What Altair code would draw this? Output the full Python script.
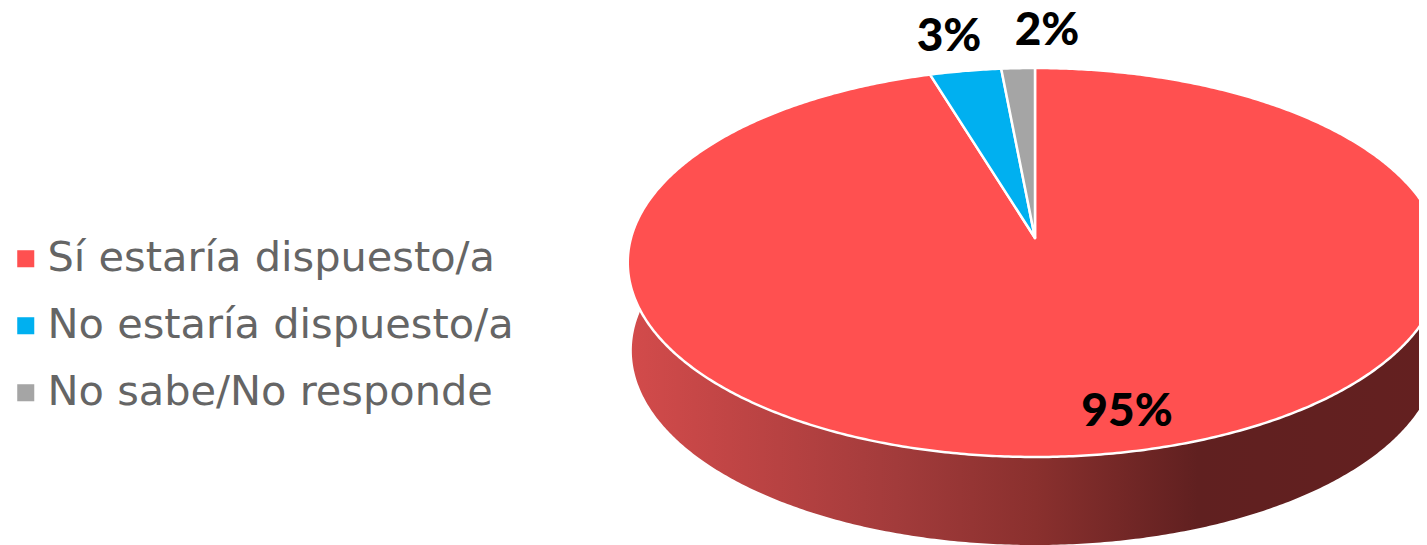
import numpy as np
import pandas as pd
import altair as alt

categories = ["Sí estaría dispuesto/a", "No estaría dispuesto/a", "No sabe/No responde"]
shares = [95.3, 3.2, 1.5]
label_texts = ["95%", "3%", "2%"]
colors = ["#FF5050", "#00B0F0", "#A5A5A5"]

W, H = 1411, 537
OFF = 8
CX, CY = 1035 - OFF, 238 - OFF
A, B, K = 404.0, 191.4, 0.126
DEPTH = 88.0
SHRINK = 0.99

label_x = [1127 - OFF, 949 - OFF, 1047 - OFF]
label_y = [412 - OFF, 37 - OFF, 31 - OFF]


def project(theta, scale=1.0, dy=0.0):
    X, Y = np.sin(theta), np.cos(theta)
    d = 1 + K * Y
    return CX + scale * A * X / d, CY + dy - B * Y / d


def arc(start, end, scale=1.0, dy=0.0, step=0.5):
    n = max(4, int(abs(end - start) / step) + 2)
    t = np.radians(np.linspace(start, end, n))
    x, y = project(t, scale, dy)
    return [[float(a), float(b)] for a, b in zip(x, y)]


def collection(feats):
    return alt.InlineData(values={"type": "FeatureCollection", "features": feats},
                          format=alt.DataFormat(property="features", type="json"))


edges = np.cumsum([0] + shares) / sum(shares) * 360
features = []
for name, s, e in zip(categories, edges[:-1], edges[1:]):
    ring = [[float(CX), float(CY)]] + arc(s, e) + [[float(CX), float(CY)]]
    features.append({"type": "Feature", "properties": {"name": name},
                     "geometry": {"type": "Polygon", "coordinates": [ring]}})

# visible side wall of the disc
wall_upper = arc(84, 276)
wall_ring = wall_upper + arc(276, 84, SHRINK, DEPTH) + [wall_upper[0]]
wall_feats = [{"type": "Feature", "properties": {"name": "wall"},
               "geometry": {"type": "Polygon", "coordinates": [wall_ring]}}]

PROJ = dict(type="identity", scale=1, translate=[0, 0])

wall = alt.Chart(collection(wall_feats)).mark_geoshape(
    fill=alt.Gradient(gradient="linear", x1=0, x2=1, y1=0, y2=0, stops=[
        alt.GradientStop(offset=0, color="#D34B4B"),
        alt.GradientStop(offset=0.33, color="#A23B3B"),
        alt.GradientStop(offset=0.5, color="#8A302E"),
        alt.GradientStop(offset=0.7, color="#602020"),
        alt.GradientStop(offset=1, color="#642020"),
    ]),
    strokeWidth=0,
).project(**PROJ)

faces = alt.Chart(collection(features)).mark_geoshape(
    stroke="white", strokeWidth=2.5, strokeJoin="round"
).encode(
    color=alt.Color("properties.name:N",
                    scale=alt.Scale(domain=categories, range=colors),
                    sort=categories,
                    legend=alt.Legend(title=None, orient="none", legendX=-3, legendY=230,
                                      symbolType="square", symbolSize=290, symbolStrokeWidth=0,
                                      labelFont="DejaVu Sans", labelFontSize=41.5, labelColor="#656565",
                                      labelOffset=1, rowPadding=24,
                                      labelLimit=600))
).project(**PROJ)

lab = pd.DataFrame({"x": label_x, "y": label_y, "t": label_texts})
labels = alt.Chart(lab).mark_text(font="Lato", fontWeight=900, fontSize=46, color="black").encode(
    x=alt.X("x:Q", scale=alt.Scale(domain=[0, W], range=[0, W]), axis=None),
    y=alt.Y("y:Q", scale=alt.Scale(domain=[0, H], range=[0, H]), axis=None),
    text="t:N",
)

chart = alt.layer(wall, faces, labels).properties(
    width=W, height=H, padding=0,
    autosize=alt.AutoSizeParams(type="none"),
).configure_view(stroke=None)

chart.save("out.html", embed_options={"renderer": "svg", "actions": False})
